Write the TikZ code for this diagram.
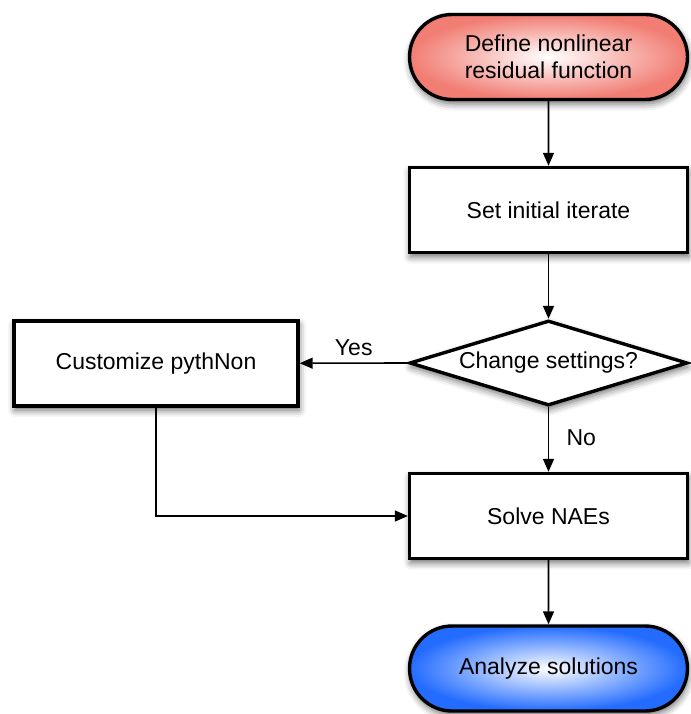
\documentclass[tikz,border=0pt]{standalone}
\usepackage{fontspec}
\setmainfont{Liberation Sans}
\usetikzlibrary{shapes.geometric,shapes.misc,arrows.meta,shadows.blur}
\definecolor{salmon}{RGB}{241,125,115}
\definecolor{bluetone}{RGB}{35,108,255}
\tikzset{
  base/.style={draw, line width=3.4pt, inner sep=0pt, align=center,
    font=\fontsize{23}{27}\selectfont,
    blur shadow={shadow xshift=1pt, shadow yshift=-4pt, shadow blur radius=7pt, shadow opacity=60}},
  procbox/.style={base, rectangle, fill=white, minimum width=278pt, minimum height=85pt},
  termbox/.style={base, rounded rectangle, minimum width=278pt, minimum height=85pt, shading=radial, inner color=white},
  decbox/.style={base, diamond, aspect=3.2, fill=white, minimum width=278pt, minimum height=85pt},
  conn/.style={line width=1.6pt, -{Triangle[length=13pt,width=11pt]}},
  lbl/.style={font=\fontsize{23}{27}\selectfont}
}
\begin{document}
\begin{tikzpicture}[x=1pt,y=-1pt]
\useasboundingbox (0,0) rectangle (690,714);
\node[termbox, outer color=salmon] (def) at (548.5,57) {Define nonlinear\\residual function};
\node[procbox] (set) at (548.5,210) {Set initial iterate};
\node[decbox] (chg) at (548.5,363) {Change settings?};
\node[procbox, minimum width=284pt] (cust) at (156,363.5) {Customize pythNon};
\node[procbox] (solve) at (548.5,516) {Solve NAEs};
\node[termbox, outer color=bluetone] (ana) at (548.5,668.5) {Analyze solutions};
\draw[conn] (def) -- (set);
\draw[conn] (set) -- (chg);
\draw[conn] (chg.west) -- node[lbl, above, yshift=3pt] (yes) {Yes} (cust);
\draw[conn] (chg.south) -- node[lbl, right, xshift=14pt, yshift=2pt] (no) {No} (solve);
\draw[conn] (cust.south) |- (solve.west);
\draw[conn] (solve) -- (ana);
\end{tikzpicture}
\end{document}
